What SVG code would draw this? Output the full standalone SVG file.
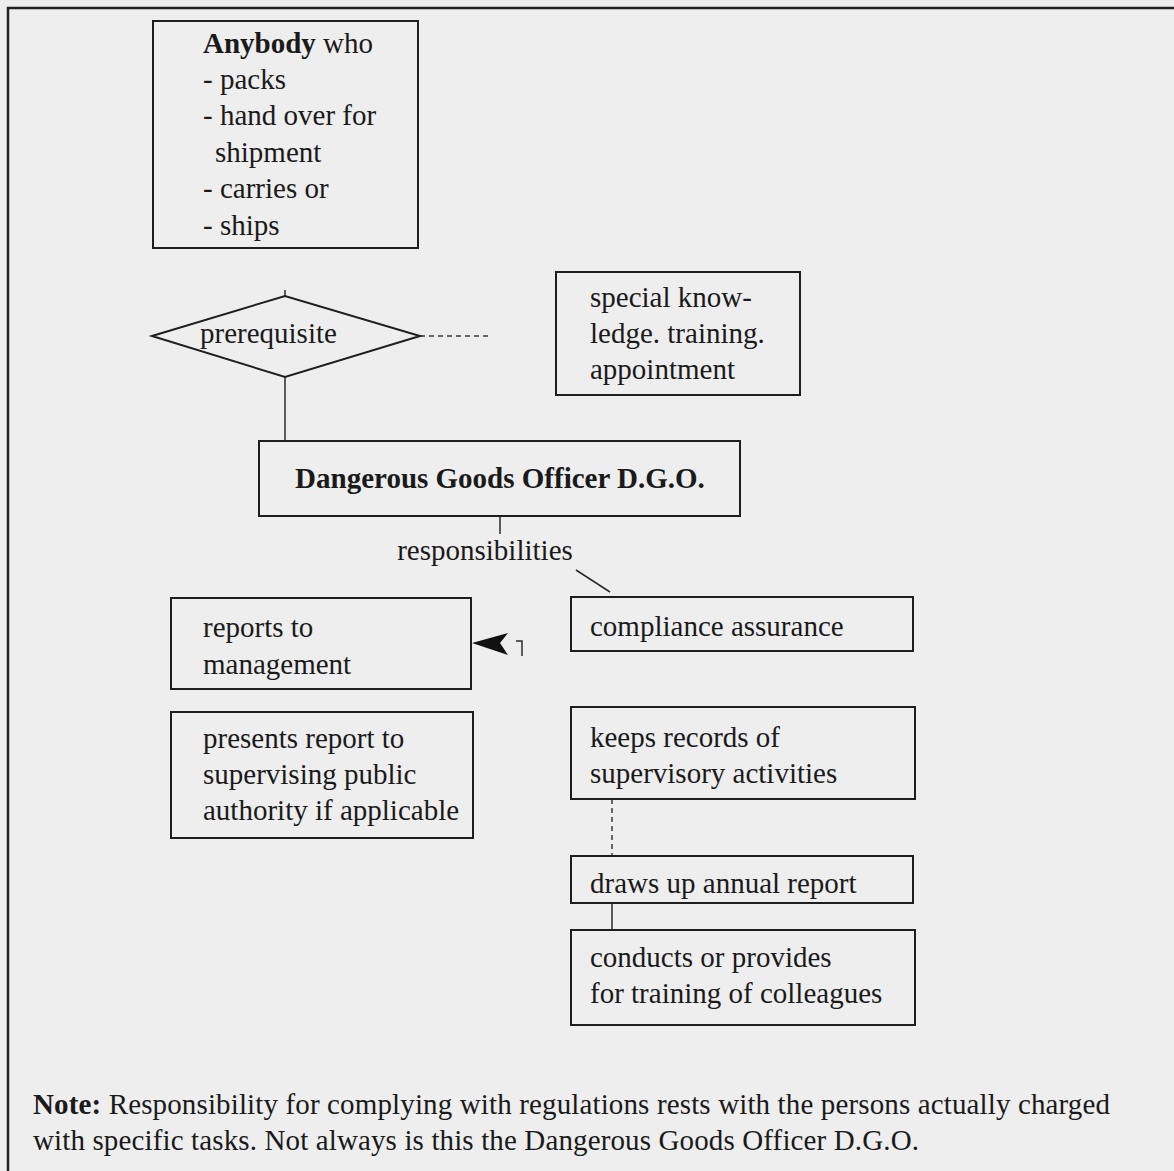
<svg xmlns="http://www.w3.org/2000/svg" width="1174" height="1171" viewBox="0 0 1174 1171">
<style>
.bg{fill:#eeeeee}
.box{fill:none;stroke:#1e1e1e;stroke-width:2}
.ln{fill:none;stroke:#2a2a2a;stroke-width:1.5}
.dl{fill:none;stroke:#3a3a3a;stroke-width:1.5;stroke-dasharray:5 4}
text{font-family:"Liberation Serif","Times New Roman",serif;font-size:29px;fill:#1a1a1a}
.b{font-weight:bold}
</style>
<rect class="bg" x="0" y="0" width="1174" height="1171"/>
<path d="M8,1171 L8,8 L1174,8" fill="none" stroke="#222" stroke-width="2.5"/>

<g id="connectors">
<line class="ln" x1="285" y1="290" x2="285" y2="296"/>
<line class="dl" x1="420" y1="336" x2="492" y2="336"/>
<line class="ln" x1="285" y1="377" x2="285" y2="441"/>
<line class="ln" x1="500" y1="516" x2="500" y2="534"/>
<line class="ln" x1="576" y1="570" x2="610" y2="592"/>
<path d="M508,633 L472,643 L508,655 L500,643 Z" fill="#111"/>
<path class="ln" d="M516,641 L522,641 L522,656"/>
<line class="dl" x1="612" y1="799" x2="612" y2="856"/>
<line class="ln" x1="612" y1="903" x2="612" y2="930"/>
</g>

<g id="anybody">
<rect class="box" x="153" y="21" width="265" height="227"/>
<text x="203" y="53"><tspan class="b">Anybody</tspan> who</text>
<text x="203" y="89">- packs</text>
<text x="203" y="125">- hand over for</text>
<text x="215" y="162">shipment</text>
<text x="203" y="198">- carries or</text>
<text x="203" y="235">- ships</text>
</g>

<g id="prerequisite">
<polygon class="box" points="152,336 285,296 420,336 285,377"/>
<text x="200" y="343">prerequisite</text>
</g>

<g id="special">
<rect class="box" x="556" y="272" width="244" height="123"/>
<text x="590" y="307">special know-</text>
<text x="590" y="343">ledge. training.</text>
<text x="590" y="379">appointment</text>
</g>

<g id="dgo">
<rect class="box" x="259" y="441" width="481" height="75"/>
<text class="b" x="500" y="488" text-anchor="middle">Dangerous Goods Officer D.G.O.</text>
</g>

<g id="responsibilities">
<text x="485" y="560" text-anchor="middle">responsibilities</text>
</g>

<g id="reports">
<rect class="box" x="171" y="598" width="300" height="91"/>
<text x="203" y="637">reports to</text>
<text x="203" y="674">management</text>
</g>

<g id="compliance">
<rect class="box" x="571" y="597" width="342" height="54"/>
<text x="590" y="636">compliance assurance</text>
</g>

<g id="presents">
<rect class="box" x="171" y="712" width="302" height="126"/>
<text x="203" y="748">presents report to</text>
<text x="203" y="784">supervising public</text>
<text x="203" y="820">authority if applicable</text>
</g>

<g id="records">
<rect class="box" x="571" y="707" width="344" height="92"/>
<text x="590" y="747">keeps records of</text>
<text x="590" y="783">supervisory activities</text>
</g>

<g id="annual">
<rect class="box" x="571" y="856" width="342" height="47"/>
<text x="590" y="893">draws up annual report</text>
</g>

<g id="training">
<rect class="box" x="571" y="930" width="344" height="95"/>
<text x="590" y="967">conducts or provides</text>
<text x="590" y="1003">for training of colleagues</text>
</g>

<g id="note">
<text x="33" y="1114" textLength="1077" lengthAdjust="spacing"><tspan class="b">Note:</tspan> Responsibility for complying with regulations rests with the persons actually charged</text>
<text x="33" y="1150" textLength="886" lengthAdjust="spacing">with specific tasks. Not always is this the Dangerous Goods Officer D.G.O.</text>
</g>
</svg>
